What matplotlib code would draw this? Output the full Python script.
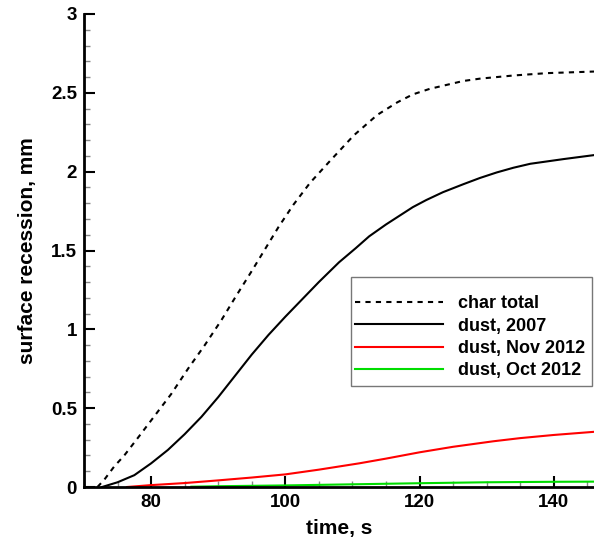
import numpy as np
import matplotlib
matplotlib.use("Agg")
import matplotlib.pyplot as plt
from matplotlib.ticker import MultipleLocator
from matplotlib.patches import Rectangle

# Valeurs (temps en s, recul en mm)
t_char = [72.0, 73.0, 74.5, 76.0, 78.0, 80.5, 83.0, 85.5, 88.0, 90.5, 92.5, 95.0, 97.0,
          99.0, 101.2, 103.7, 106.7, 110.2, 113.7, 116.7, 119.0, 121.5, 124.0, 126.5,
          129.0, 134.0, 139.0, 146.0]
char_total = [0.0, 0.045, 0.13, 0.20, 0.31, 0.45, 0.59, 0.75, 0.90, 1.06, 1.20, 1.37, 1.51,
              1.65, 1.79, 1.93, 2.07, 2.23, 2.36, 2.44, 2.49, 2.525, 2.55, 2.575,
              2.59, 2.61, 2.625, 2.635]

t_2007 = [72.7, 75.0, 77.5, 80.0, 82.5, 85.0, 87.5, 90.0, 92.5, 95.0, 97.5, 100.0,
          102.5, 105.0, 108.0, 110.5, 112.5, 115.0, 117.0, 119.0, 121.0, 123.5, 126.5,
          129.0, 131.5, 134.0, 136.5, 141.5, 146.0]
dust_2007 = [0.0, 0.03, 0.075, 0.15, 0.235, 0.335, 0.445, 0.57, 0.705, 0.84, 0.965, 1.08,
             1.19, 1.30, 1.425, 1.515, 1.59, 1.665, 1.72, 1.775, 1.82, 1.87, 1.92,
             1.96, 1.995, 2.025, 2.05, 2.08, 2.105]

t_nov = [76.4, 80.0, 85.0, 90.0, 95.0, 100.0, 105.0, 111.0, 115.0, 120.0, 125.0, 131.0,
         135.0, 140.0, 146.0]
dust_nov = [0.0, 0.012, 0.025, 0.042, 0.06, 0.08, 0.11, 0.15, 0.18, 0.22, 0.255, 0.29,
            0.31, 0.33, 0.35]

t_oct = [86.0, 90.0, 100.0, 110.0, 120.0, 130.0, 140.0, 146.0]
dust_oct = [0.002, 0.005, 0.01, 0.017, 0.024, 0.03, 0.033, 0.034]

plt.rcParams["font.family"] = ["Liberation Sans", "DejaVu Sans"]
plt.rcParams["font.weight"] = "bold"

W, H = 594, 544
fig = plt.figure(figsize=(W / 100, H / 100), dpi=100)
ax = fig.add_axes([84 / W, 1 - 487 / H, 1 - 84 / W, (487 - 14) / H])

ax.plot(t_char, char_total, color="black", lw=1.5, linestyle=(0, (2.5, 2.5)), label="char total")
ax.plot(t_2007, dust_2007, color="black", lw=1.5, label="dust, 2007")
ax.plot(t_nov, dust_nov, color="#ff0000", lw=1.5, label="dust, Nov 2012")
ax.plot(t_oct, dust_oct, color="#00dd00", lw=1.5, label="dust, Oct 2012")

ax.set_xlim(70, 146)
ax.set_ylim(0, 3)
ax.xaxis.set_major_locator(MultipleLocator(20))
ax.xaxis.set_minor_locator(MultipleLocator(5))
ax.yaxis.set_major_locator(MultipleLocator(0.5))
ax.yaxis.set_minor_locator(MultipleLocator(0.1))
ax.yaxis.set_major_formatter(plt.FuncFormatter(lambda v, p: f"{v:g}"))

for side in ["top", "right"]:
    ax.spines[side].set_visible(False)
for side in ["left", "bottom"]:
    ax.spines[side].set_linewidth(2)

ax.tick_params(which="major", direction="in", length=8, width=1.5, labelsize=13.5, pad=5)
ax.tick_params(which="minor", direction="in", length=4.5, width=1, color="#888888")

ax.set_xlabel("time, s", fontsize=15, fontweight="bold", labelpad=6)
ax.set_ylabel("surface recession, mm", fontsize=15, fontweight="bold", labelpad=10)

# cadre de la légende
fig.patches.append(Rectangle((351 / W, 1 - 386 / H), (592 - 351) / W, (386 - 277) / H,
                             transform=fig.transFigure, facecolor="white",
                             edgecolor="#777777", lw=1, zorder=5))
leg = fig.legend(*ax.get_legend_handles_labels(), loc="upper left",
                 bbox_to_anchor=(355 / W, 1 - 295.5 / H), bbox_transform=fig.transFigure,
                 fontsize=13, frameon=False, handlelength=4.9, handletextpad=0.8,
                 borderpad=0, borderaxespad=0, labelspacing=0.29)
leg.set_zorder(6)
for txt in leg.get_texts():
    txt.set_fontweight("bold")

plt.savefig("out.png", dpi=100)
